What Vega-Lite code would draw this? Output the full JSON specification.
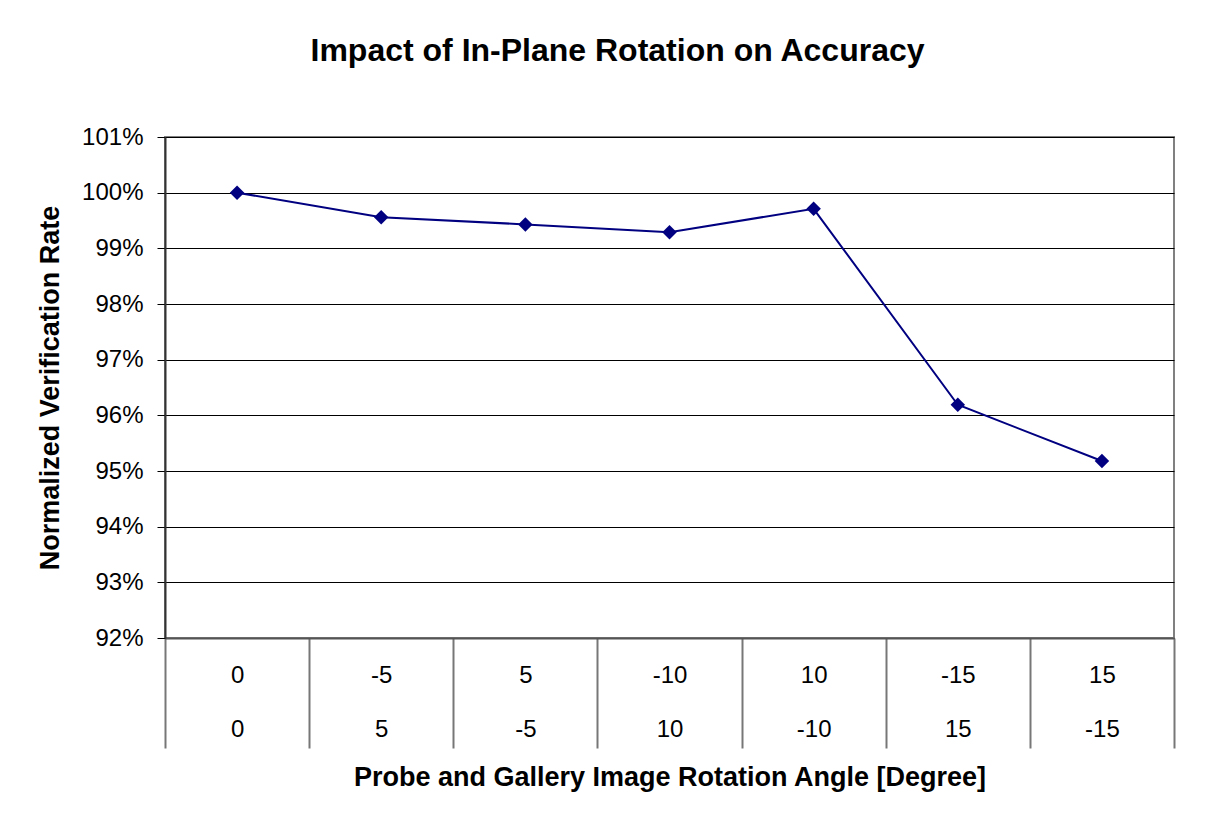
{
  "$schema": "https://vega.github.io/schema/vega-lite/v6.json",
  "autosize": {"type": "none"},
  "width": 1009,
  "height": 501,
  "padding": {"left": 165, "top": 137, "right": 54, "bottom": 178},
  "background": "white",
  "config": {
    "font": "Liberation Sans",
    "view": {"stroke": "#808080", "strokeWidth": 2}
  },
  "title": {
    "text": "Impact of In-Plane Rotation on Accuracy",
    "fontSize": 32,
    "fontWeight": "bold",
    "font": "Liberation Sans",
    "color": "black",
    "anchor": "middle",
    "dx": -52,
    "offset": 57
  },
  "data": {
    "values": [
      {"angles": "0|0", "rate": 1.0},
      {"angles": "-5|5", "rate": 0.9956},
      {"angles": "5|-5", "rate": 0.9943},
      {"angles": "-10|10", "rate": 0.9929},
      {"angles": "10|-10", "rate": 0.9971},
      {"angles": "-15|15", "rate": 0.9619},
      {"angles": "15|-15", "rate": 0.9518}
    ]
  },
  "encoding": {
    "x": {
      "field": "angles",
      "type": "ordinal",
      "sort": null,
      "scale": {"paddingInner": 0, "paddingOuter": 0},
      "axis": {
        "title": "Probe and Gallery Image Rotation Angle [Degree]",
        "titleFontSize": 27,
        "titleFontWeight": "bold",
        "titleColor": "black",
        "titlePadding": 15,
        "labelExpr": "isValid(datum.value) ? split(datum.value, '|') : ''",
        "labelAngle": 0,
        "labelFontSize": 24,
        "labelColor": "black",
        "labelLineHeight": 54,
        "labelBaseline": "top",
        "labelPadding": -85,
        "tickBand": "extent",
        "tickSize": 110,
        "tickColor": "#777777",
        "tickWidth": 2,
        "domainColor": "#555555",
        "domainWidth": 2,
        "grid": false
      }
    },
    "y": {
      "field": "rate",
      "type": "quantitative",
      "scale": {"domain": [0.92, 1.01], "nice": false, "zero": false},
      "axis": {
        "title": "Normalized Verification Rate",
        "titleFontSize": 27,
        "titleFontWeight": "bold",
        "titleColor": "black",
        "titlePadding": 17,
        "values": [0.92, 0.93, 0.94, 0.95, 0.96, 0.97, 0.98, 0.99, 1.0, 1.01],
        "format": ".0%",
        "labelFontSize": 24,
        "labelColor": "black",
        "labelPadding": 14,
        "tickSize": 8,
        "tickColor": "black",
        "domainColor": "#333333",
        "domainWidth": 2,
        "grid": true,
        "gridColor": "black",
        "gridWidth": 1,
        "gridOpacity": 1
      }
    }
  },
  "layer": [
    {"mark": {"type": "line", "color": "#000080", "strokeWidth": 2}},
    {"mark": {"type": "point", "shape": "diamond", "filled": true, "color": "#000080", "size": 210, "opacity": 1}}
  ]
}
